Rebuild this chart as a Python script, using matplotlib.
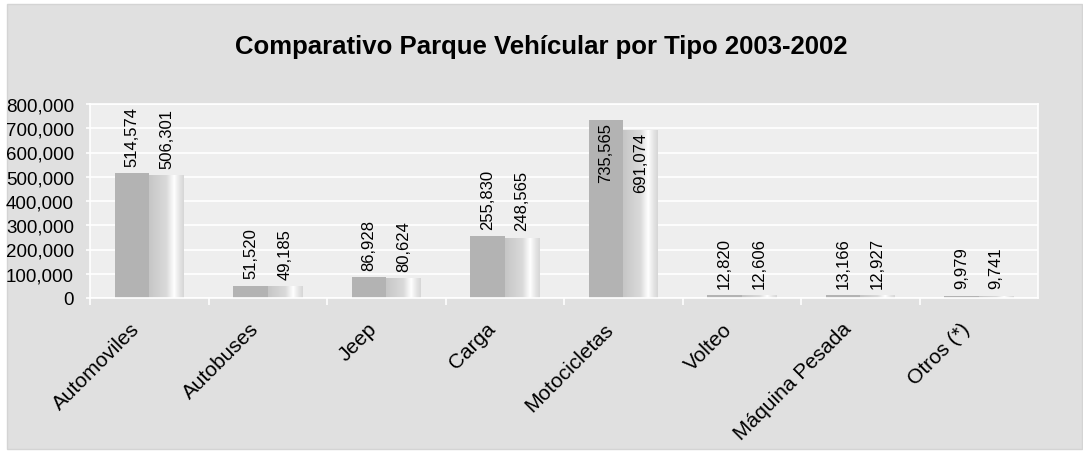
import numpy as np
import matplotlib.pyplot as plt
from matplotlib.patches import Rectangle
from matplotlib.colors import LinearSegmentedColormap
from matplotlib.ticker import FuncFormatter
from matplotlib.transforms import ScaledTranslation

plt.rcParams['font.family'] = ['Liberation Sans', 'DejaVu Sans']

categorias = ["Automoviles", "Autobuses", "Jeep", "Carga", "Motocicletas",
              "Volteo", "Máquina Pesada", "Otros (*)"]
valores_2003 = [514574, 51520, 86928, 255830, 735565, 12820, 13166, 9979]
valores_2002 = [506301, 49185, 80624, 248565, 691074, 12606, 12927, 9741]

fig = plt.figure(figsize=(10.83, 4.52), dpi=100, facecolor='white')
fig.patches.append(Rectangle((7 / 1083, 2 / 452), 1075 / 1083, 445 / 452,
                             transform=fig.transFigure, facecolor='#e0e0e0',
                             edgecolor='#d4d4d4', linewidth=1, zorder=-1))

ax = fig.add_axes([90 / 1083, 1 - 299 / 452, 948 / 1083, 194 / 452])
ax.set_facecolor('#eeeeee')

x = np.arange(len(categorias))
w = 0.29
ax.bar(x - w / 2, valores_2003, w, color='#b3b3b3', zorder=2)
bars2 = ax.bar(x + w / 2, valores_2002, w, color='#d0d0d0', zorder=2)

# degradado tipo cilindro en la segunda serie
cmap = LinearSegmentedColormap.from_list('cil', [
    (0.0, '#c6c6c6'), (0.5, '#dadada'), (0.72, '#ffffff'),
    (0.88, '#e4e4e4'), (1.0, '#d6d6d6')])
grad = np.linspace(0, 1, 256).reshape(1, -1)
for b in bars2:
    im = ax.imshow(grad, cmap=cmap, aspect='auto', zorder=2.5,
                   extent=[b.get_x(), b.get_x() + b.get_width(), 0, b.get_height()])
    im.set_clip_path(b)

ax.set_xlim(-0.5, len(categorias) - 0.5)
ax.set_ylim(0, 800000)
ax.set_yticks(np.arange(0, 800001, 100000))
ax.yaxis.set_major_formatter(FuncFormatter(lambda v, p: f"{int(v):,}"))
ax.grid(axis='y', color='white', linewidth=1.2, zorder=1)
for s in ax.spines.values():
    s.set_color('white')
    s.set_linewidth(1.2)

ax.set_xticks(x - 0.5, minor=True)
ax.set_xticks(x)
ax.set_xticklabels(categorias, rotation=45, ha='right', va='top',
                   rotation_mode='anchor', fontsize=15)
ax.tick_params(axis='x', which='major', length=0, pad=15)
ax.tick_params(axis='x', which='minor', length=5, color='white', width=1.2)
ax.tick_params(axis='y', length=3, color='white', width=1.2, labelsize=13.5, pad=8.5)
for lab in ax.get_xticklabels():
    lab.set_transform(lab.get_transform() + ScaledTranslation(-19 / 100, 0, fig.dpi_scale_trans))

for serie, off in ((valores_2003, -w / 2), (valores_2002, w / 2)):
    for xi, v in zip(x, serie):
        if v > 600000:
            ax.text(xi + off, v - 8000, f"{v:,}", rotation=90, ha='center',
                    va='top', fontsize=12, zorder=3)
        else:
            ax.text(xi + off, v + 30000, f"{v:,}", rotation=90, ha='center',
                    va='bottom', fontsize=12, zorder=3)

fig.text(0.5, 1 - 47 / 452, "Comparativo Parque Vehícular por Tipo 2003-2002",
         ha='center', va='center', fontsize=18.5, fontweight='bold')

fig.savefig("out.png", dpi=100, facecolor=fig.get_facecolor())
